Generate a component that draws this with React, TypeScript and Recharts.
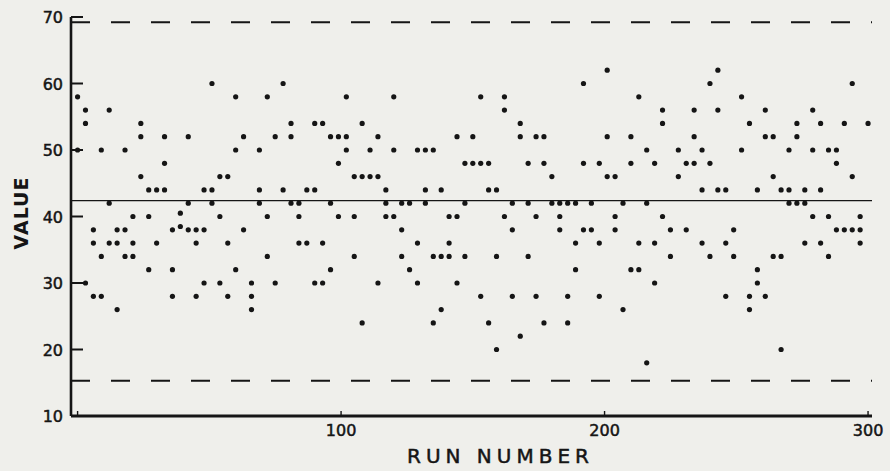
import { ScatterChart, Scatter, XAxis, YAxis, ReferenceLine } from 'recharts';

// run number of each plotted group (three runs share one column)
const groupRuns = [
  0, 3, 6, 9, 12, 15, 18, 21, 24, 27, 30, 33, 36, 39, 42, 45, 48, 51, 54, 57,
  60, 63, 66, 69, 72, 75, 78, 81, 84, 87, 90, 93, 96, 99, 102, 105, 108, 111, 114, 117,
  120, 123, 126, 129, 132, 135, 138, 141, 144, 147, 150, 153, 156, 159, 162, 165, 168, 171, 174, 177,
  180, 183, 186, 189, 192, 195, 198, 201, 204, 207, 210, 213, 216, 219, 222, 225, 228, 231, 234, 237,
  240, 243, 246, 249, 252, 255, 258, 261, 264, 267, 270, 273, 276, 279, 282, 285, 288, 291, 294, 297,
  300,
];

// values, one list per column
const groupValues: number[][] = [
  [58, 50], [56, 54, 30], [38, 36, 28], [50, 34, 28], [56, 42, 36],
  [38, 36, 26], [50, 38, 34], [40, 36, 34], [54, 52, 46], [44, 40, 32],
  [44, 36], [52, 48, 44], [38, 32, 28], [40.5, 38.5], [52, 42, 38],
  [38, 36, 28], [44, 38, 30], [60, 44, 42], [46, 40, 30], [46, 36, 28],
  [58, 50, 32], [52, 38], [30, 28, 26], [50, 44, 42], [58, 40, 34],
  [52, 30], [60, 44], [54, 52, 42], [42, 40, 36], [44, 36],
  [54, 44, 30], [54, 36, 30], [52, 42, 32], [52, 48, 40], [58, 52, 50],
  [46, 40, 34], [54, 46, 24], [50, 46], [52, 46, 30], [44, 42, 40],
  [58, 50, 40], [42, 38, 34], [42, 32], [50, 36, 30], [50, 44, 42],
  [50, 34, 24], [44, 34, 26], [40, 36, 34], [52, 40, 30], [48, 42, 34],
  [52, 48], [58, 48, 28], [48, 44, 24], [44, 34, 20], [58, 56, 40],
  [42, 38, 28], [54, 52, 22], [48, 42, 34], [52, 40, 28], [52, 48, 24],
  [46, 42], [42, 40, 38], [42, 28, 24], [42, 36, 32], [60, 48, 38],
  [42, 38], [48, 36, 28], [62, 52, 46], [46, 40, 38], [42, 26],
  [52, 48, 32], [58, 36, 32], [50, 42, 18], [48, 36, 30], [56, 54, 40],
  [38, 34], [50, 46], [48, 38], [56, 52, 48], [50, 44, 36],
  [60, 48, 34], [62, 56, 44], [44, 36, 28], [38, 34], [58, 50],
  [54, 28, 26], [44, 32, 30], [56, 52, 28], [52, 46, 34], [44, 34, 20],
  [50, 44, 42], [54, 52, 42], [44, 42, 36], [56, 50, 40], [54, 44, 36],
  [50, 40, 34], [50, 48, 38], [54, 38], [60, 46, 38], [40, 38, 36],
  [54],
];

const centerLine = 42.4;
const upperLimit = 69.2;
const lowerLimit = 15.3;

const runTicks = [0, 100, 200, 300];
const valueTicks = [10, 20, 30, 40, 50, 60, 70];

const points = groupRuns.flatMap((run, i) => groupValues[i].map((value) => ({ run, value })));

const INK = '#151515';
const FONT = '"DejaVu Sans", sans-serif';

function RunTick({ x, y, payload }: any) {
  return (
    <g>
      <line x1={x} y1={y} x2={x} y2={y - 5} stroke={INK} strokeWidth={1.4} />
      {payload.value !== 0 && (
        <text x={x} y={y + 20} textAnchor="middle" fontSize={16} fill={INK} stroke={INK} strokeWidth={0.5} fontFamily={FONT}>
          {payload.value}
        </text>
      )}
    </g>
  );
}

function ValueTick({ x, y, payload }: any) {
  return (
    <g>
      <line x1={x} y1={y} x2={x + 12} y2={y} stroke={INK} strokeWidth={2} />
      <text x={x - 8} y={y + 6} textAnchor="end" fontSize={16} fill={INK} stroke={INK} strokeWidth={0.5} fontFamily={FONT}>
        {payload.value}
      </text>
    </g>
  );
}

function Dot({ cx, cy }: any) {
  return <circle cx={cx} cy={cy} r={2.6} fill={INK} />;
}

export default function App() {
  return (
    <div style={{ position: 'absolute', left: 0, top: 0, width: 890, height: 471, background: '#efefeb' }}>
      <ScatterChart width={890} height={471} margin={{ top: 17, right: 18, bottom: 0, left: 0 }}>
        <XAxis
          type="number"
          dataKey="run"
          domain={[-2.5, 301.5]}
          ticks={runTicks}
          interval={0}
          allowDataOverflow
          height={55}
          tickSize={0}
          tickMargin={0}
          tickLine={false}
          tick={<RunTick />}
          axisLine={{ stroke: INK, strokeWidth: 2.8 }}
          label={{
            value: 'RUN NUMBER',
            content: ({ viewBox }: any) => (
              <text
                x={viewBox.x + viewBox.width / 2 + 29}
                y={viewBox.y + 47}
                textAnchor="middle"
                fontSize={20}
                letterSpacing={5}
                fill={INK}
                stroke={INK}
                strokeWidth={0.5}
                fontFamily={FONT}
              >
                RUN NUMBER
              </text>
            ),
          }}
        />
        <YAxis
          type="number"
          dataKey="value"
          domain={[10, 70]}
          ticks={valueTicks}
          interval={0}
          allowDataOverflow
          width={71}
          tickSize={0}
          tickMargin={0}
          tickLine={false}
          tick={<ValueTick />}
          axisLine={{ stroke: INK, strokeWidth: 2.6 }}
          label={{
            value: 'VALUE',
            content: ({ viewBox }: any) => {
              const cx = viewBox.x + 21;
              const cy = viewBox.y + 196;
              return (
                <text
                  x={cx}
                  y={cy}
                  transform={`rotate(-90, ${cx}, ${cy})`}
                  textAnchor="middle"
                  dominantBaseline="central"
                  fontSize={19}
                  fontWeight="bold"
                  letterSpacing={1}
                  fill={INK}
                  fontFamily={FONT}
                >
                  VALUE
                </text>
              );
            },
          }}
        />
        <ReferenceLine y={upperLimit} stroke={INK} strokeWidth={2} strokeDasharray="19 21" />
        <ReferenceLine y={lowerLimit} stroke={INK} strokeWidth={2} strokeDasharray="19 21" />
        <ReferenceLine y={centerLine} stroke={INK} strokeWidth={1.2} />
        <Scatter data={points} dataKey="value" isAnimationActive={false} shape={<Dot />} />
      </ScatterChart>
    </div>
  );
}
